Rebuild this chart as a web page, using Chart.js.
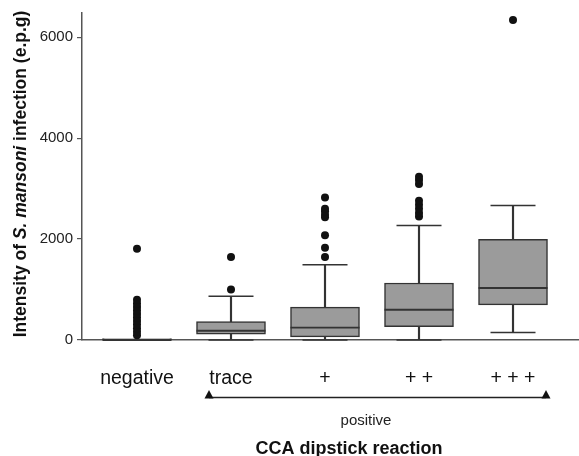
<!DOCTYPE html>
<html><head><meta charset="utf-8">
<script src="https://cdn.jsdelivr.net/npm/chart.js@4"></script>
<style>html,body{margin:0;padding:0;background:#fff;} canvas{display:block;}</style>
</head><body>
<canvas id="c" width="579" height="456"></canvas>
<script>
// ---- data ----
const categories = ['negative', 'trace', '+', '+ +', '+ + +'];
const q1 = [0, 114, 61, 265, 697];
const median = [0, 183, 245, 599, 1030];
const q3 = [30, 363, 650, 1129, 1993];
const whiskerLow = [0, 0, 0, 0, 147];
const whiskerHigh = [0, 866, 1489, 2268, 2665];
const outliersNegative = [95, 165, 235, 305, 375, 445, 515, 585, 655, 725, 800, 1810];
const outliersTrace = [1003, 1646];
const outliersPlus = [1646, 1828, 2078, 2431, 2484, 2549, 2602, 2824];
const outliersPlus2 = [2445, 2516, 2602, 2681, 2759, 3093, 3172, 3236];
const outliersPlus3 = [6342];
const yTicks = [0, 2000, 4000, 6000];
const yTitleParts = ['Intensity of ', 'S. mansoni', ' infection (e.p.g)'];
const xTitle = 'CCA dipstick reaction';
const bracketLabel = 'positive';

const outlierSets = [outliersNegative, outliersTrace, outliersPlus, outliersPlus2, outliersPlus3];
const FONT = "'Liberation Sans', Arial, Helvetica, sans-serif";
const LINE = '#333';

const idx = categories.map((_, i) => i);
const boxData = idx.map(i => ({x: i, y: [q1[i], q3[i]]}));
const upperWhisker = idx.map(i => ({x: i, y: [q3[i], whiskerHigh[i]]}));
const lowerWhisker = idx.map(i => ({x: i, y: [whiskerLow[i], q1[i]]}));
const capData = idx.flatMap(i => [{x: i, y: whiskerHigh[i]}, {x: i, y: whiskerLow[i]}]);
const medianData = idx.map(i => ({x: i, y: median[i]}));
const outlierData = outlierSets.flatMap((arr, i) => arr.map(v => ({x: i, y: v})));

const annot = {
  id: 'annot',
  afterDraw(chart) {
    const ctx = chart.ctx;
    // y-axis title with italic species name
    ctx.save();
    const size = 17.5;
    const styles = ['bold', 'italic bold', 'bold'];
    let total = 0;
    const widths = yTitleParts.map((t, k) => {
      ctx.font = `${styles[k]} ${size}px ${FONT}`;
      const w = ctx.measureText(t).width; total += w; return w;
    });
    ctx.translate(26, 174);
    ctx.rotate(-Math.PI / 2);
    ctx.fillStyle = '#111';
    ctx.textBaseline = 'alphabetic';
    ctx.textAlign = 'left';
    let x = -total / 2;
    yTitleParts.forEach((t, k) => {
      ctx.font = `${styles[k]} ${size}px ${FONT}`;
      ctx.fillText(t, x, 0);
      x += widths[k];
    });
    ctx.restore();

    // "positive" bracket
    ctx.save();
    const xl = 209, xr = 546, yb = 397.5;
    ctx.strokeStyle = '#222';
    ctx.lineWidth = 1.5;
    ctx.beginPath(); ctx.moveTo(xl, yb); ctx.lineTo(xr, yb); ctx.stroke();
    ctx.fillStyle = '#111';
    [xl, xr].forEach(px => {
      ctx.beginPath();
      ctx.moveTo(px, 390); ctx.lineTo(px - 4.5, 398.5); ctx.lineTo(px + 4.5, 398.5);
      ctx.closePath(); ctx.fill();
    });
    ctx.fillStyle = '#222';
    ctx.textAlign = 'center';
    ctx.textBaseline = 'alphabetic';
    ctx.font = `15px ${FONT}`;
    ctx.fillText(bracketLabel, 366, 425);
    ctx.fillStyle = '#111';
    ctx.font = `bold 18px ${FONT}`;
    ctx.fillText(xTitle, 349, 453.5);
    ctx.restore();
  }
};

new Chart(document.getElementById('c'), {
  type: 'bar',
  data: {
    datasets: [
      { type: 'bar', data: upperWhisker, backgroundColor: LINE, borderWidth: 0,
        grouped: false, barThickness: 1.5, maxBarThickness: 1.5, order: 6 },
      { type: 'bar', data: lowerWhisker, backgroundColor: LINE, borderWidth: 0,
        grouped: false, barThickness: 1.5, maxBarThickness: 1.5, order: 5 },
      { type: 'bar', data: boxData, backgroundColor: '#9b9b9b', borderColor: LINE, borderWidth: 1.5,
        borderSkipped: false, grouped: false, barThickness: 69, maxBarThickness: 69, order: 4 },
      { type: 'scatter', data: capData, pointStyle: 'line', pointRadius: 22.5,
        borderColor: LINE, pointBorderWidth: 1.5, borderWidth: 1.5, clip: false, order: 3 },
      { type: 'scatter', data: medianData, pointStyle: 'line', pointRadius: 34.5,
        borderColor: LINE, pointBorderWidth: 1.8, borderWidth: 1.8, clip: false, order: 2 },
      { type: 'scatter', data: outlierData, pointStyle: 'circle', pointRadius: 4,
        backgroundColor: '#111', borderColor: '#111', pointBorderWidth: 0, borderWidth: 0, clip: false, order: 1 }
    ]
  },
  options: {
    responsive: false,
    devicePixelRatio: 1,
    animation: false,
    events: [],
    layout: { autoPadding: false, padding: { top: 10, left: 0, right: 0, bottom: 0 } },
    plugins: { legend: { display: false }, tooltip: { enabled: false } },
    scales: {
      x: {
        type: 'linear', min: -0.585, max: 4.702, offset: false,
        afterBuildTicks: s => { s.ticks = idx.map(v => ({value: v})); },
        afterFit: s => { s.height = 116; },
        grid: { display: false },
        border: { display: true, color: '#555', width: 1.5 },
        ticks: { padding: 19, color: '#111', font: { family: FONT, size: 19.5 },
                 maxRotation: 0, autoSkip: false, callback: v => categories[v] }
      },
      y: {
        type: 'linear', min: 0, max: 6480, stacked: false,
        afterBuildTicks: s => { s.ticks = yTicks.map(v => ({value: v})); },
        afterFit: s => { s.width = 82; },
        grid: { drawOnChartArea: false, drawTicks: true, tickLength: 5, color: '#555', lineWidth: 1.2 },
        border: { display: true, color: '#555', width: 1.5 },
        ticks: { padding: 4, color: '#222', font: { family: FONT, size: 15 }, callback: v => String(v) }
      }
    }
  },
  plugins: [annot]
});
</script>
</body></html>
